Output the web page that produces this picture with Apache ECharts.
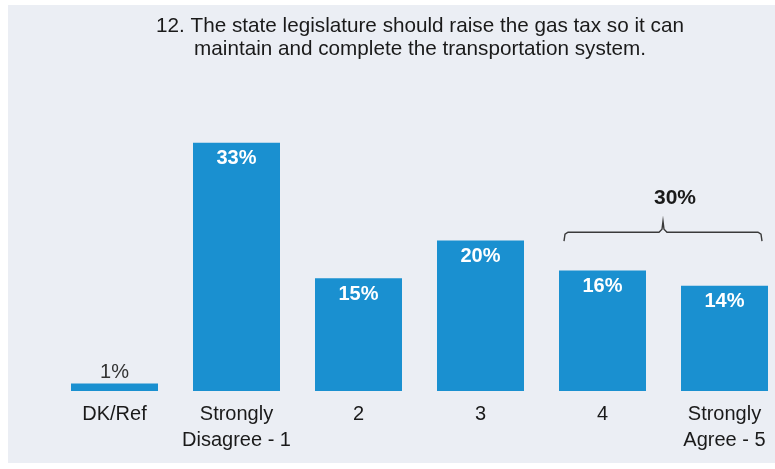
<!DOCTYPE html>
<html><head><meta charset="utf-8">
<script src="https://cdn.jsdelivr.net/npm/echarts@6/dist/echarts.min.js"></script>
<style>html,body{margin:0;padding:0;background:#fff;overflow:hidden;width:775px;height:469px}#c{width:795px;height:469px}</style>
</head><body><div id="c"></div>
<script>
var categories = ['DK/Ref', 'Strongly\nDisagree - 1', '2', '3', '4', 'Strongly\nAgree - 5'];
var values = [1, 33, 15, 20, 16, 14];
var bracketLabel = '30%';
var bracketFrom = 4, bracketTo = 5, bracketValue = 21.1;

var chart = echarts.init(document.getElementById('c'), null, {renderer: 'canvas'});
var FONT = 'Arial, "Liberation Sans", sans-serif';
var BAR_W = 87;
var option = {
  backgroundColor: '#ffffff',
  animation: false,
  title: {
    text: '12. The state legislature should raise the gas tax so it can\nmaintain and complete the transportation system.',
    left: 415, top: 10, textAlign: 'center',
    textStyle: {fontFamily: FONT, fontSize: 20.7, fontWeight: 'normal', color: '#1a1a1a', lineHeight: 23}
  },
  graphic: [{
    type: 'rect', z: -10, silent: true,
    shape: {x: 8, y: 5, width: 800, height: 458},
    style: {fill: '#ebeef4'}
  }],
  grid: {left: 53.5, width: 732, top: 90, height: 301},
  xAxis: {
    type: 'category', data: categories,
    axisLine: {show: false}, axisTick: {show: false},
    axisLabel: {fontFamily: FONT, fontSize: 20, color: '#1a1a1a', lineHeight: 26, margin: 10, interval: 0}
  },
  yAxis: {type: 'value', min: 0, max: 40, show: false, splitLine: {show: false}},
  series: [{
    type: 'bar', data: values.map(function (v, i) {
      return i === 0 ? {value: v, label: {position: 'top', color: '#333', fontWeight: 'normal', distance: 1}} : v;
    }),
    barWidth: BAR_W,
    itemStyle: {color: '#1a90d0'},
    label: {
      show: true, position: 'insideTop', distance: 6, formatter: '{c}%',
      fontFamily: FONT, fontSize: 20, fontWeight: 'bold', color: '#ffffff'
    }
  }]
};
chart.setOption(option);

var pL = chart.convertToPixel({xAxisIndex: 0, yAxisIndex: 0}, [bracketFrom, bracketValue]);
var pR = chart.convertToPixel({xAxisIndex: 0, yAxisIndex: 0}, [bracketTo, bracketValue]);
var half = BAR_W / 2;
var x1 = pL[0] - half + 5, x2 = pR[0] + half - 6, y = pL[1], mid = (x1 + x2) / 2;
chart.setOption({
  graphic: [
    option.graphic[0],
    {type: 'polyline', silent: true,
     shape: {points: [[x1, y + 9], [x1 + 1, y + 2], [x1 + 4, y], [mid - 4, y], [mid - 1, y - 3], [mid, y - 11], [mid + 1, y - 3], [mid + 4, y], [x2 - 4, y], [x2 - 1, y + 2], [x2, y + 9]]},
     style: {stroke: '#3a3a3a', lineWidth: 1.4, fill: null}},
    {type: 'text', silent: true, x: mid + 12, y: y - 34,
     style: {text: bracketLabel, fontFamily: FONT, fontSize: 21, fontWeight: 'bold', fill: '#1a1a1a', textAlign: 'center', textVerticalAlign: 'middle'}}
  ]
});
</script></body></html>
